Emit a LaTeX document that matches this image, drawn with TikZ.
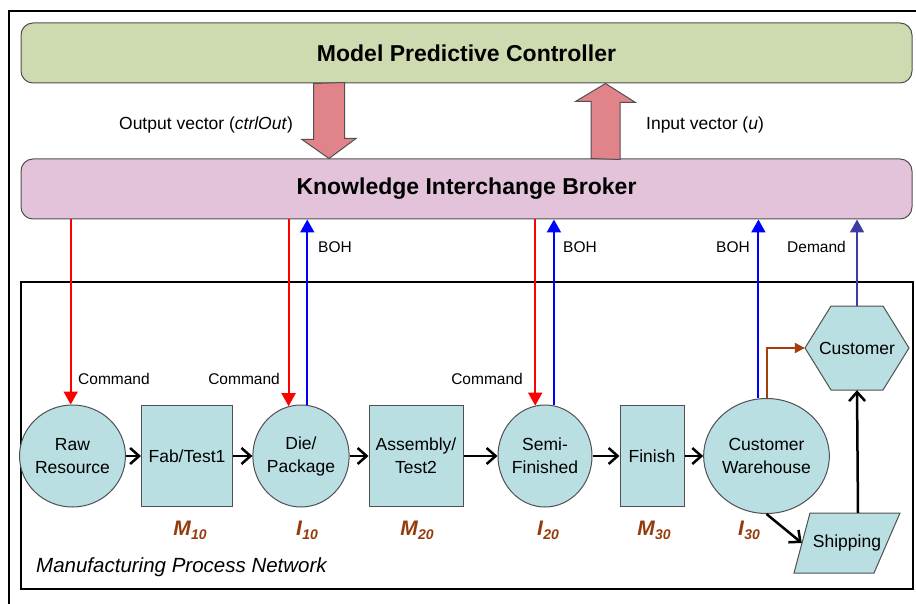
\documentclass[tikz,border=0pt]{standalone}
\usepackage{fontspec}
\setmainfont{Liberation Sans}
\usetikzlibrary{calc,arrows.meta,shapes.geometric}

\definecolor{mpcgreen}{RGB}{206,218,176}
\definecolor{kibpink}{RGB}{226,195,217}
\definecolor{fatred}{RGB}{224,132,138}
\definecolor{nodecyan}{RGB}{186,223,226}
\definecolor{edgegray}{RGB}{80,80,80}
\definecolor{varbrown}{RGB}{150,58,12}
\definecolor{linkbrown}{RGB}{165,62,10}
\definecolor{demandblue}{RGB}{60,60,165}

\newcommand{\varlab}[2]{\textbf{\textit{#1}}\raisebox{-0.35ex}{\fontsize{14}{14}\selectfont\textbf{\textit{#2}}}}

\tikzset{
  bar/.style={draw=edgegray, line width=1pt, rounded corners=12pt, minimum width=891pt,
    minimum height=60pt, font=\fontsize{23}{23}\selectfont\bfseries},
  store/.style={ellipse, draw=edgegray, line width=1pt, fill=nodecyan, inner sep=0pt,
    minimum width=94pt, minimum height=102pt, align=center, font=\fontsize{17.5}{23}\selectfont},
  stage/.style={rectangle, draw=edgegray, line width=1pt, fill=nodecyan, inner sep=0pt,
    minimum height=101pt, align=center, font=\fontsize{17.5}{23}\selectfont},
  lbl/.style={inner sep=0pt, font=\fontsize{15.5}{16}\selectfont},
  vec/.style={inner sep=0pt, font=\fontsize{17.5}{18}\selectfont},
  var/.style={inner sep=0pt, text=varbrown, font=\fontsize{21}{21}\selectfont},
  bigarrow/.style={draw=edgegray, line width=1pt, fill=fatred},
  outline/.style={draw=edgegray, line width=1pt, fill=nodecyan},
  flow/.style={line width=2.5pt, -{Straight Barb[length=9pt,width=16pt,line width=2.5pt]}},
  cmd/.style={red, line width=2pt, -{Triangle[length=13pt,width=14pt]}},
  boh/.style={blue, line width=2pt, -{Triangle[length=13pt,width=14pt]}},
}

\begin{document}
\begin{tikzpicture}[x=1pt, y=-1pt]

\useasboundingbox (0,0) rectangle (916,604);

% outer frame and process box
\draw[line width=2pt] (9,604) |- (916,11);
\draw[line width=1.2pt] (21,282) rectangle (913,589);
\node[inner sep=0pt, anchor=west, font=\fontsize{20.5}{21}\selectfont\itshape] (MPN) at (36,567) {Manufacturing Process Network};

% controller and broker
\node[bar, fill=mpcgreen] (MPC) at (466.5,53) {Model Predictive Controller};
\node[bar, fill=kibpink] (KIB) at (466.5,189) {Knowledge Interchange Broker};

\coordinate (OV) at (MPC.south -| 329,0);
\coordinate (IV) at (KIB.north -| 605.5,0);

\draw[bigarrow] ($(OV)+(-15.5,0)$) -- ++(0,56) -- ++(-11.5,0) -- (KIB.north -| OV)
  -- ++(27,-20) -- ++(-11.5,0) -- ++(0,-56) -- cycle;
\draw[bigarrow] ($(IV)+(-14.5,0)$) -- ++(0,-57) -- ++(-15.5,0) -- (MPC.south -| IV)
  -- ++(30,19) -- ++(-15.5,0) -- ++(0,57) -- cycle;

\node[vec] (OVL) at (206,125) {Output vector (\textit{ctrlOut})};
\node[vec] (IVL) at (705,125) {Input vector (\textit{u})};

% process nodes
\node[store] (R) at (72.5,456) {Raw\\Resource};
\node[stage, minimum width=91pt] (F1) at (187,456) {Fab/Test1};
\node[store] (D) at (301,456) {Die/\\Package};
\node[stage, minimum width=94pt] (A2) at (416,456) {Assembly/\\Test2};
\node[store] (S) at (545,456) {Semi-\\Finished};
\node[stage, minimum width=64pt] (F) at (652,456) {Finish};
\node[store, minimum width=107pt, minimum height=115pt] (CW) at (766.5,456) {Customer\\Warehouse};

\coordinate (C0) at (857,348);
\filldraw[outline] ($(C0)+(-52,0)$) -- ++(26,-42) -- ++(52,0)
  -- ++(26,42) -- ++(-26,42) -- ++(-52,0) -- cycle;
\node[minimum width=104pt, minimum height=84pt, inner sep=0pt, font=\fontsize{17.5}{23}\selectfont] (C) at (C0) {Customer};

\coordinate (Sh0) at (847,543);
\filldraw[outline] ($(Sh0)+(-53,30)$) -- ++(16,-60) -- ++(90,0) -- ++(-26,60) -- cycle;
\node[minimum width=90pt, minimum height=60pt, inner sep=0pt, font=\fontsize{17.5}{23}\selectfont] (Sh) at (Sh0) {Shipping};

% variable labels
\node[var] (M1) at (190,530) {\varlab{M}{10}};
\node[var] (I1) at (307,530) {\varlab{I}{10}};
\node[var] (M2) at (417,530) {\varlab{M}{20}};
\node[var] (I2) at (548,530) {\varlab{I}{20}};
\node[var] (M3) at (654,530) {\varlab{M}{30}};
\node[var] (I3) at (749,530) {\varlab{I}{30}};

% material flow
\draw[flow] (R) -- (F1);
\draw[flow] (F1) -- (D);
\draw[flow] (D) -- (A2);
\draw[flow] (A2) -- (S);
\draw[flow] (S) -- (F);
\draw[flow] (F) -- (CW);
\draw[flow] (CW.south) -- (Sh.west);
\draw[flow] (Sh.70) -- (C.south);

% commands and feedback
\draw[cmd] (KIB.south -| R.92) -- (R.92);
\draw[cmd] (KIB.south -| D.104) -- (D.104);
\draw[cmd] (KIB.south -| S.101) -- (S.101);

\draw[boh] (D.83) -- (KIB.south -| D.83);
\draw[boh] (S.80) -- (KIB.south -| S.80);
\draw[boh] (CW.98) -- (KIB.south -| CW.98);
\draw[demandblue, line width=2pt, -{Triangle[length=13pt,width=14pt]}] (C.north) -- (KIB.south -| C.north);
\draw[linkbrown, line width=2pt, -{Triangle[length=10pt,width=10pt]}] (CW.north) |- (C.west);

\node[lbl, anchor=west] (CR) at (78,379) {Command};
\node[lbl, anchor=east] (CD) at (280,379) {Command};
\node[lbl, anchor=east] (CS) at (523,379) {Command};
\node[lbl, anchor=west] (BD) at (318,247) {BOH};
\node[lbl, anchor=west] (BS) at (563,247) {BOH};
\node[lbl, anchor=east] (BC) at (750,247) {BOH};
\node[lbl, anchor=east] (DC) at (846,247) {Demand};

\end{tikzpicture}
\end{document}
